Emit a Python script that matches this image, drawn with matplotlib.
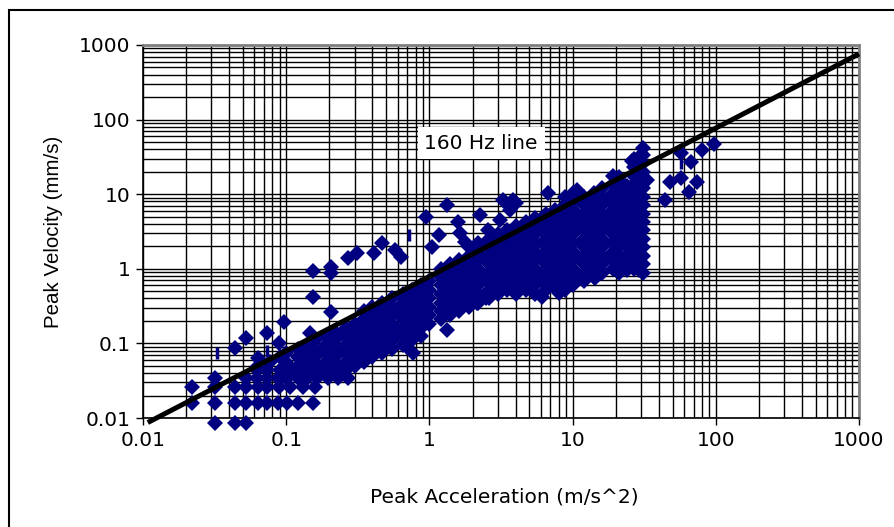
import numpy as np
import matplotlib
matplotlib.use('Agg')
import matplotlib.pyplot as plt
from matplotlib.ticker import LogLocator, FuncFormatter, NullFormatter
from matplotlib.patches import Rectangle

plt.rcParams['font.family'] = ['DejaVu Sans']

#%% data: (peak acceleration m/s^2, peak velocity mm/s)

# sparse points at low acceleration
low_pts = [(0.032, 0.0086), (0.044, 0.0086), (0.052, 0.0086),
           (0.022, 0.016), (0.032, 0.016), (0.044, 0.016), (0.052, 0.016), (0.064, 0.016),
           (0.074, 0.016), (0.087, 0.016), (0.102, 0.016), (0.12, 0.016), (0.153, 0.016),
           (0.022, 0.026), (0.032, 0.026), (0.044, 0.026), (0.052, 0.026), (0.064, 0.026),
           (0.074, 0.026), (0.0885, 0.026), (0.107, 0.026), (0.13, 0.026), (0.16, 0.026),
           (0.032, 0.034), (0.052, 0.034), (0.063, 0.034), (0.074, 0.034), (0.087, 0.034),
           (0.102, 0.034), (0.12, 0.034), (0.14, 0.034), (0.165, 0.034), (0.195, 0.034),
           (0.23, 0.034), (0.27, 0.034),
           (0.063, 0.044), (0.074, 0.044), (0.09, 0.044), (0.11, 0.044), (0.13, 0.044),
           (0.15, 0.044), (0.18, 0.044), (0.21, 0.044), (0.25, 0.044),
           (0.044, 0.087), (0.052, 0.118), (0.074, 0.138), (0.064, 0.064), (0.096, 0.194),
           (0.0885, 0.1), (0.147, 0.138), (0.153, 0.42), (0.204, 0.26), (0.063, 0.048),
           (0.077, 0.057), (0.09, 0.065)]

# dense band, one column of velocities per acceleration
band_acc = [0.1, 0.12, 0.14, 0.16, 0.19, 0.22, 0.26, 0.3, 0.35, 0.4, 0.47, 0.55, 0.65,
            0.75, 0.88, 1.0, 1.2, 1.4, 1.6, 1.9, 2.2, 2.6, 3.0, 3.5, 4.0, 4.7, 5.5, 6.5,
            7.5, 8.8, 10, 12, 14, 16, 19, 21, 24, 27, 29, 31]
band_vel = [
    [0.034, 0.044, 0.057, 0.074],
    [0.039, 0.05, 0.065, 0.084],
    [0.034, 0.044, 0.057, 0.074, 0.096],
    [0.039, 0.05, 0.065, 0.084, 0.11],
    [0.044, 0.057, 0.074, 0.096, 0.125],
    [0.039, 0.05, 0.065, 0.084, 0.11, 0.14],
    [0.044, 0.057, 0.074, 0.096, 0.125, 0.16],
    [0.05, 0.065, 0.084, 0.11, 0.14, 0.18],
    [0.057, 0.074, 0.096, 0.125, 0.16, 0.21, 0.27],
    [0.065, 0.084, 0.11, 0.14, 0.18, 0.24, 0.31],
    [0.074, 0.096, 0.125, 0.16, 0.21, 0.27, 0.35],
    [0.084, 0.11, 0.14, 0.18, 0.24, 0.31, 0.4],
    [0.096, 0.125, 0.16, 0.21, 0.27, 0.35, 0.46],
    [0.11, 0.14, 0.18, 0.24, 0.31, 0.4, 0.52],
    [0.125, 0.16, 0.21, 0.27, 0.35, 0.46, 0.6],
    [0.18, 0.24, 0.31, 0.4, 0.52, 0.68],
    [0.21, 0.27, 0.35, 0.46, 0.6, 0.78, 1.0],
    [0.24, 0.31, 0.4, 0.52, 0.68, 0.88, 1.15],
    [0.27, 0.35, 0.46, 0.6, 0.78, 1.0, 1.3],
    [0.31, 0.4, 0.52, 0.68, 0.88, 1.15, 1.5, 1.95],
    [0.35, 0.46, 0.6, 0.78, 1.0, 1.3, 1.7, 2.2],
    [0.4, 0.52, 0.68, 0.88, 1.15, 1.5, 1.95, 2.5],
    [0.46, 0.6, 0.78, 1.0, 1.3, 1.7, 2.2, 2.9],
    [0.52, 0.68, 0.88, 1.15, 1.5, 1.95, 2.5, 3.3],
    [0.46, 0.6, 0.78, 1.0, 1.3, 1.7, 2.2, 2.9, 3.7],
    [0.52, 0.68, 0.88, 1.15, 1.5, 1.95, 2.5, 3.3, 4.2],
    [0.46, 0.6, 0.78, 1.0, 1.3, 1.7, 2.2, 2.9, 3.7, 4.8],
    [0.52, 0.68, 0.88, 1.15, 1.5, 1.95, 2.5, 3.3, 4.2, 5.5],
    [0.6, 0.78, 1.0, 1.3, 1.7, 2.2, 2.9, 3.7, 4.8, 6.2],
    [0.52, 0.68, 0.88, 1.15, 1.5, 1.95, 2.5, 3.3, 4.2, 5.5, 7.1, 9.2],
    [0.6, 0.78, 1.0, 1.3, 1.7, 2.2, 2.9, 3.7, 4.8, 6.2, 8.0, 10.4],
    [0.68, 0.88, 1.15, 1.5, 1.95, 2.5, 3.3, 4.2, 5.5, 7.1, 9.2],
    [0.78, 1.0, 1.3, 1.7, 2.2, 2.9, 3.7, 4.8, 6.2, 8.0, 10.4],
    [0.88, 1.15, 1.5, 1.95, 2.5, 3.3, 4.2, 5.5, 7.1, 9.2, 12],
    [1.0, 1.3, 1.7, 2.2, 2.9, 3.7, 4.8, 6.2, 8.0, 10.4, 13.5, 17.5],
    [0.88, 1.15, 1.5, 1.95, 2.5, 3.3, 4.2, 5.5, 7.1, 9.2, 12, 15.5],
    [0.95, 1.2, 1.55, 2.0, 2.6, 3.4, 4.4, 5.8, 7.5, 9.8, 12.7],
    [1.0, 1.3, 1.7, 2.2, 2.9, 3.7, 4.8, 6.2, 8.0, 10.4, 13.5, 17.5, 23, 30],
    [0.95, 1.2, 1.55, 2.0, 2.6, 3.4, 4.4, 5.8, 7.5, 9.8, 12.7, 16.5, 21.5, 28],
    [0.88, 1.15, 1.5, 1.95, 2.5, 3.3, 4.2, 5.5, 7.1, 9.2, 12, 15.5, 20, 26, 34],
]

# scattered points above and below the band
upper_pts = [(0.155, 0.93), (0.204, 1.06), (0.204, 0.88), (0.268, 1.4), (0.314, 1.63),
             (0.413, 1.63), (0.469, 2.22), (0.578, 1.79), (0.95, 4.95), (1.17, 2.84),
             (1.33, 7.2), (1.05, 1.96), (1.59, 4.24), (2.26, 5.26), (3.27, 8.36),
             (3.83, 8.36), (6.7, 10.4), (10.7, 11.4), (0.63, 1.44), (1.64, 3.0),
             (1.78, 2.29), (2.57, 3.3), (3.11, 4.5), (3.65, 6.1), (3.4, 7.6), (4.0, 7.6)]
lower_pts = [(2.15, 0.35), (2.5, 0.41), (3.97, 0.49), (6.1, 0.42), (8.1, 0.47),
             (14.3, 0.75), (1.33, 0.151), (0.7, 0.09), (0.77, 0.074)]

# high acceleration points
high_pts = [(30.8, 41.6), (28.4, 30.5), (32.9, 15.5), (43.9, 8.4), (57.6, 35.7),
            (67.6, 27), (80.7, 39), (97.8, 47), (47.5, 14.6), (57.6, 16.5), (74.5, 14.6),
            (65.5, 10.7), (21, 17), (26, 28)]

# short vertical marks
bar_pts = [(0.033, 0.074), (0.074, 0.08), (0.72, 2.84), (57, 26)]

# 160 Hz line end points
line_acc = [0.0108, 1000]
line_vel = [0.0087, 760]

#%% collect markers
acc = [p[0] for p in low_pts + upper_pts + lower_pts + high_pts]
vel = [p[1] for p in low_pts + upper_pts + lower_pts + high_pts]
for a, col in zip(band_acc, band_vel):
    acc += [a] * len(col)
    vel += col

navy = '#000080'

fig = plt.figure(figsize=(8.95, 5.27), dpi=100)
ax = fig.add_axes([143/895, 1 - 418/527, (859 - 143)/895, (418 - 45)/527])
ax.set_xscale('log')
ax.set_yscale('log')
ax.set_xlim(0.01, 1000)
ax.set_ylim(0.01, 1000)

for axis in (ax.xaxis, ax.yaxis):
    axis.set_major_locator(LogLocator(base=10, numticks=10))
    axis.set_minor_locator(LogLocator(base=10, subs=np.arange(2, 10), numticks=10))
    axis.set_major_formatter(FuncFormatter(lambda v, p: '%g' % v))
    axis.set_minor_formatter(NullFormatter())

ax.grid(True, which='both', color='black', lw=1.0)
ax.set_axisbelow(True)
ax.tick_params(which='major', direction='out', length=5, width=1, labelsize=14.5, pad=4)
ax.tick_params(which='minor', length=0)
for s in ('left', 'bottom'):
    ax.spines[s].set_color('black')
    ax.spines[s].set_linewidth(1.2)
for s in ('top', 'right'):
    ax.spines[s].set_color('#808080')
    ax.spines[s].set_linewidth(2)

ax.plot(acc, vel, 'D', color=navy, ms=8.5, mew=0, clip_on=False, zorder=3)
ax.plot([p[0] for p in bar_pts], [p[1] for p in bar_pts], '|', color=navy,
        ms=9, mew=2.5, zorder=3)
ax.plot(line_acc, line_vel, color='black', lw=3.6, solid_capstyle='butt',
        clip_on=False, zorder=4)

ax.text(2.3, 48.5, '160 Hz line', fontsize=14.5, ha='center', va='center', zorder=5,
        bbox=dict(facecolor='white', edgecolor='none', pad=5))

fig.text(54/895, 1 - 232/527, 'Peak Velocity (mm/s)', rotation=90, ha='center',
         va='center', fontsize=14.8, family=['Liberation Sans', 'DejaVu Sans'])
fig.text(504/895, 1 - 497/527, 'Peak Acceleration (m/s^2)', ha='center',
         va='center', fontsize=14.5)

fig.patches.append(Rectangle((9/895, -0.1), 1.0, 1.1 - 10/527, transform=fig.transFigure,
                             fill=False, edgecolor='black', lw=1.5))

plt.savefig('out.png', dpi=100, facecolor='w')
plt.close()
